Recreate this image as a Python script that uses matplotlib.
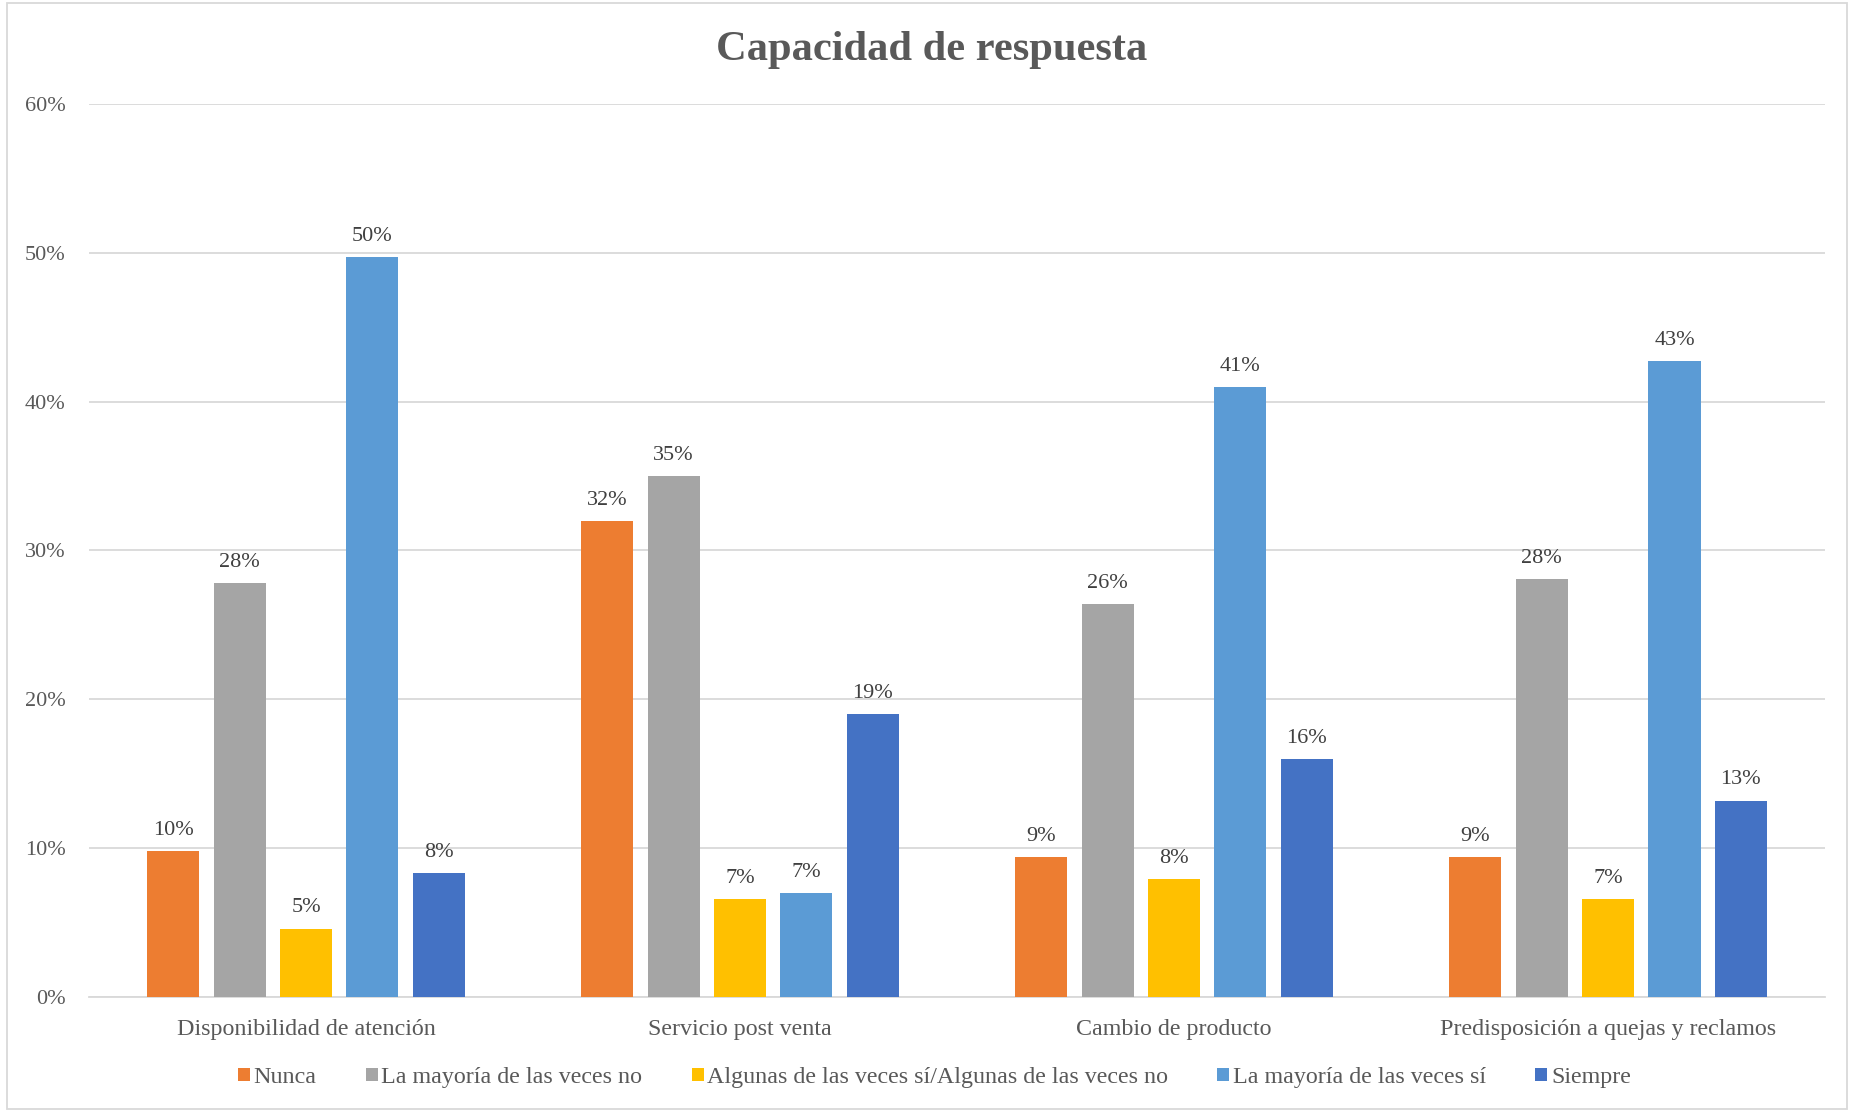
import numpy as np
import matplotlib.pyplot as plt
from matplotlib.patches import Rectangle

plt.rcParams['font.family'] = ['Liberation Serif', 'DejaVu Serif']

categorias = ["Disponibilidad de atención", "Servicio post venta",
              "Cambio de producto", "Predisposición a quejas y reclamos"]
series = ["Nunca", "La mayoría de las veces no",
          "Algunas de las veces sí/Algunas de las veces no",
          "La mayoría de las veces sí", "Siempre"]
nunca = [9.8, 32.0, 9.4, 9.4]
mayoria_no = [27.8, 35.0, 26.4, 28.1]
algunas = [4.6, 6.6, 7.9, 6.6]
mayoria_si = [49.7, 7.0, 41.0, 42.7]
siempre = [8.3, 19.0, 16.0, 13.2]
valores = [nunca, mayoria_no, algunas, mayoria_si, siempre]
colores = ["#ED7D31", "#A5A5A5", "#FFC000", "#5B9BD5", "#4472C4"]

texto = "#595959"

fig = plt.figure(figsize=(18.54, 11.12), dpi=100)
ax = fig.add_axes([0.048, 0.1034, 0.9364, 0.8031])

x = np.arange(len(categorias))
ancho = 0.12
paso = 0.153
for i, (serie, vals, col) in enumerate(zip(series, valores, colores)):
    pos = x + (i - 2) * paso
    barras = ax.bar(pos, vals, width=ancho, color=col, label=serie, zorder=3)
    etiquetas = [f"{round(v):.0f}%" for v in vals]
    ax.bar_label(barras, labels=etiquetas, padding=8, fontsize=16, color="#404040")

ax.set_xlim(-0.5, len(categorias) - 0.5)
ax.set_ylim(0, 60)
ax.set_yticks(np.arange(0, 61, 10))
ax.set_yticklabels([f"{t}%" for t in range(0, 61, 10)])
ax.set_xticks(x)
ax.set_xticklabels(categorias)
ax.tick_params(axis='both', length=0, labelsize=16, colors=texto)
ax.tick_params(axis='x', pad=16, labelsize=17.3)
ax.tick_params(axis='y', pad=17)
ax.grid(axis='y', color="#D9D9D9", linewidth=1.3, zorder=0)
for lado in ["top", "right", "left"]:
    ax.spines[lado].set_visible(False)
ax.spines["bottom"].set_color("#D9D9D9")
ax.spines["bottom"].set_linewidth(1.3)

fig.text(0.5027, 0.955, "Capacidad de respuesta", ha="center", va="center",
         fontsize=30.6, fontweight="bold", color=texto)

ley = fig.legend(loc="center", bbox_to_anchor=(0.504, 0.031), ncol=5, frameon=False,
                 fontsize=17.3, handlelength=0.5, handleheight=0.5, handletextpad=0.15,
                 columnspacing=2.05, labelcolor=texto)

fig.patches.append(Rectangle((0.004, 0.003), 0.992, 0.994, transform=fig.transFigure,
                             fill=False, edgecolor="#D9D9D9", linewidth=1.3))

fig.savefig("out.png", dpi=100)
